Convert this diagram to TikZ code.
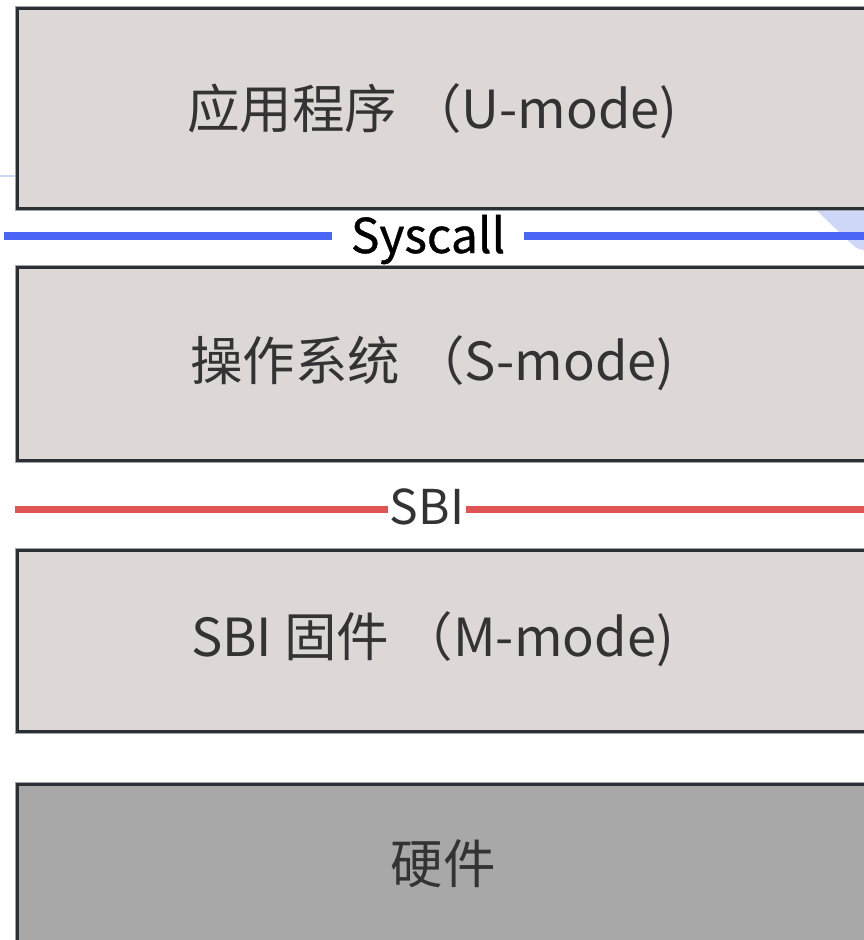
\documentclass[tikz,border=0pt]{standalone}
\usepackage{fontspec}
\setmainfont{Noto Sans CJK SC}
\newfontfamily\sysfont{Noto Sans CJK SC}[FakeBold=0.8]
\definecolor{boxfill}{HTML}{DDD8D5}
\definecolor{hwfill}{HTML}{A8A8A8}
\definecolor{boxedge}{HTML}{2B3035}
\definecolor{edgelight}{HTML}{A0A4A8}
\definecolor{sysblue}{HTML}{4B66F6}
\definecolor{sbired}{HTML}{E05454}
\definecolor{faintblue}{HTML}{CFD7F8}
\definecolor{txt}{HTML}{333333}
\begin{document}
\begin{tikzpicture}[x=1pt,y=-1pt,
  layer/.style={draw=boxedge,line width=3pt,fill=#1,
    preaction={draw=edgelight,line width=5pt}},
  boxtext/.style={text=txt,font=\fontsize{52.5}{60}\selectfont,inner sep=0pt,anchor=center},
  iflabel/.style={fill=white,inner ysep=0pt,text height=34pt,text depth=8pt,anchor=base,
    font=\fontsize{48}{56}\selectfont},
  ifline/.style={line width=#1,line cap=butt}]
\useasboundingbox (0,0) rectangle (864,940);
\clip (0,0) rectangle (864,940);
% faint background shapes
\draw[faintblue,line width=2pt] (0,176) -- (16,176);
\fill[faintblue,rounded corners=6pt] (812,206) -- (858,250) -- (880,250) -- (880,206) -- cycle;
% layers
\path[layer=boxfill] (17.5,8.5) rectangle (890,208.5) coordinate (u);
\path[layer=boxfill] (17.5,267) rectangle (890,460) coordinate (s);
\path[layer=boxfill] (17.5,550) rectangle (890,731) coordinate (m);
\path[layer=hwfill] (17.5,784) rectangle (890,960) coordinate (h);
\node[boxtext] (ut) at (432.5,111) {应用程序 （U-mode)};
\node[boxtext] (st) at (432.5,363) {操作系统 （S-mode)};
\node[boxtext] (mt) at (432.5,639) {SBI 固件 （M-mode)};
\node[boxtext] (ht) at (443,864) {硬件};
% interfaces
\coordinate (sysL) at (4,236);
\coordinate (sysR) at (880,236);
\node[iflabel,inner xsep=19pt,text=black,font=\sysfont\fontsize{48}{56}\selectfont] (sys) at (428,253) {Syscall};
\draw[ifline=8pt,sysblue] (sysL) -- (sysL -| sys.west);
\draw[ifline=8pt,sysblue] (sysR -| sys.east) -- (sysR);
\coordinate (sbiL) at (15,509);
\coordinate (sbiR) at (880,509);
\node[iflabel,inner xsep=2pt,text=txt] (sbi) at (427,524) {SBI};
\draw[ifline=7pt,sbired] (sbiL) -- (sbiL -| sbi.west);
\draw[ifline=7pt,sbired] (sbiR -| sbi.east) -- (sbiR);
\end{tikzpicture}
\end{document}
